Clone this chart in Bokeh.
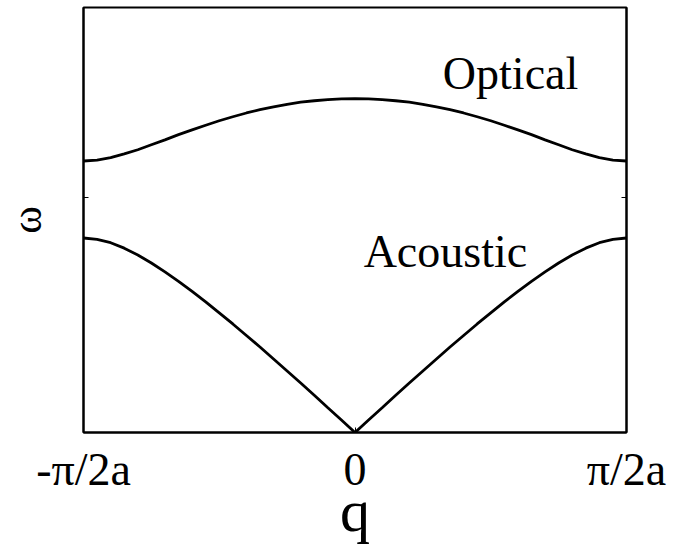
from bokeh.plotting import figure
from bokeh.models import Range1d, FixedTicker, LinearAxis, Label, CustomLabelingPolicy
from bokeh.embed import file_html
from bokeh.resources import INLINE

# Wavevector across the first Brillouin zone (units of pi/2a)
q = [-1.00, -0.95, -0.90, -0.85, -0.80, -0.75, -0.70, -0.65, -0.60, -0.55, -0.50,
     -0.45, -0.40, -0.35, -0.30, -0.25, -0.20, -0.15, -0.10, -0.05, 0.00,
     0.05, 0.10, 0.15, 0.20, 0.25, 0.30, 0.35, 0.40, 0.45, 0.50,
     0.55, 0.60, 0.65, 0.70, 0.75, 0.80, 0.85, 0.90, 0.95, 1.00]

# Frequencies of the two branches
acoustic = [0.826, 0.820, 0.806, 0.783, 0.754, 0.720, 0.682, 0.642, 0.599, 0.555, 0.508,
            0.461, 0.412, 0.363, 0.312, 0.261, 0.210, 0.158, 0.105, 0.053, 0.000,
            0.053, 0.105, 0.158, 0.210, 0.261, 0.312, 0.363, 0.412, 0.461, 0.508,
            0.555, 0.599, 0.642, 0.682, 0.720, 0.754, 0.783, 0.806, 0.820, 0.826]
optical = [1.153, 1.157, 1.167, 1.183, 1.201, 1.222, 1.243, 1.265, 1.285, 1.305, 1.324,
           1.341, 1.357, 1.371, 1.383, 1.394, 1.403, 1.409, 1.414, 1.417, 1.418,
           1.417, 1.414, 1.409, 1.403, 1.394, 1.383, 1.371, 1.357, 1.341, 1.324,
           1.305, 1.285, 1.265, 1.243, 1.222, 1.201, 1.183, 1.167, 1.157, 1.153]

x_ticks = [-1, 0, 1]
x_tick_labels = ["-\u03c0/2a", "0", "\u03c0/2a"]
y_ticks = [1]

FONT = "Liberation Serif"
AXIS_FONT = "Times New Roman"

p = figure(width=679, height=546, output_backend="svg", toolbar_location=None,
           x_range=Range1d(-1, 1), y_range=Range1d(0, 1.805),
           min_border_left=83, min_border_right=53, min_border_top=7, min_border_bottom=113,
           x_axis_label="q", y_axis_label="\u03c9")

p.grid.visible = False
p.outline_line_color = "black"
p.outline_line_width = 2
p.background_fill_color = "white"
p.border_fill_color = "white"

no_labels = CustomLabelingPolicy(code="return []")

xa = p.xaxis[0]
xa.ticker = FixedTicker(ticks=x_ticks)
xa.major_label_overrides = {t: s for t, s in zip(x_ticks, x_tick_labels)}
xa.major_tick_in = 5
xa.major_tick_out = 0
xa.minor_tick_line_color = None
xa.axis_line_width = 2
xa.major_label_text_font = AXIS_FONT
xa.major_label_text_font_size = "46px"
xa.major_label_text_color = "black"
xa.major_label_standoff = 11
xa.axis_label_text_font = AXIS_FONT
xa.axis_label_text_font_style = "normal"
xa.axis_label_text_font_size = "60px"
xa.axis_label_text_color = "black"
xa.axis_label_standoff = -20

ya = p.yaxis[0]
ya.ticker = FixedTicker(ticks=y_ticks)
ya.major_label_policy = no_labels
ya.major_label_standoff = 0
ya.major_tick_in = 5
ya.major_tick_out = 0
ya.minor_tick_line_color = None
ya.axis_line_width = 2
ya.axis_label_text_font = AXIS_FONT
ya.axis_label_text_font_style = "normal"
ya.axis_label_text_font_size = "42px"
ya.axis_label_text_color = "black"
ya.axis_label_standoff = 24

ra = LinearAxis(ticker=FixedTicker(ticks=y_ticks), major_label_policy=no_labels,
                major_tick_in=5, major_tick_out=0, minor_tick_line_color=None,
                axis_line_width=2)
p.add_layout(ra, "right")

p.line(q, optical, line_color="black", line_width=2.8)
p.line(q, acoustic, line_color="black", line_width=2.8)

# Branch names
for x, y, s in [(0.573, 1.525, "Optical"), (0.333, 0.767, "Acoustic")]:
    p.add_layout(Label(x=x, y=y, text=s, text_align="center", text_baseline="alphabetic",
                       text_font=FONT, text_font_size="46px", text_color="black"))

open("out.html", "w").write(file_html(p, INLINE))
